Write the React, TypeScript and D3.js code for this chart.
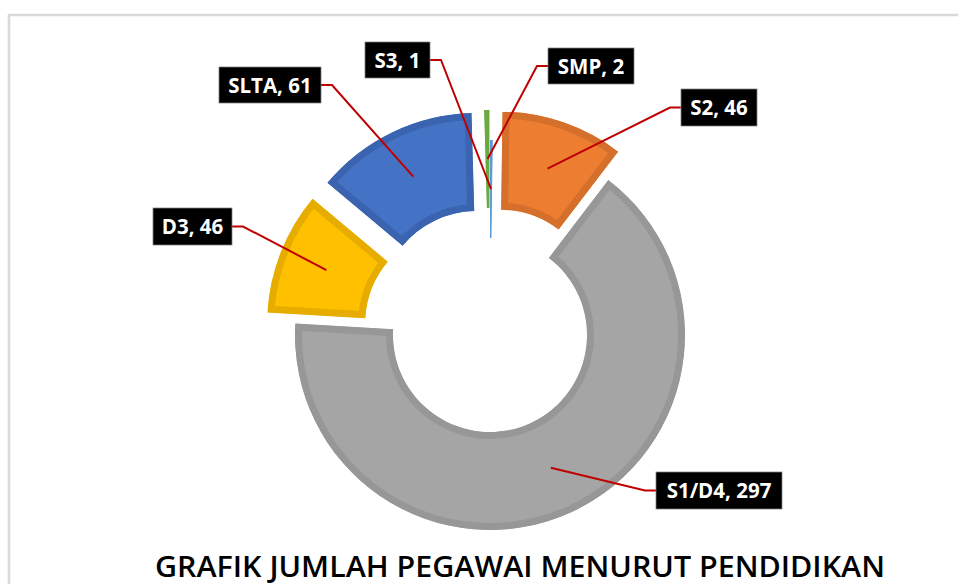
import React from 'react';
import * as d3 from 'd3';

// data, clockwise from 12 o'clock
const categories = ['S3', 'S2', 'S1/D4', 'D3', 'SLTA', 'SMP'];
const values = [1, 46, 297, 46, 61, 2];

const fills = ['#5B9BD5', '#ED7D31', '#A5A5A5', '#FFC000', '#4472C4', '#70AD47'];
const borders = ['#5B9BD5', '#D4702C', '#979797', '#E6AD00', '#3B64B0', '#6AA842'];
const exploded = ['S2', 'D3', 'SLTA', 'SMP'];

// label boxes: [x, y, w, h]
const labelBoxes: Record<string, number[]> = {
  'S3': [365, 42, 65, 36],
  'S2': [681, 89, 76, 37],
  'S1/D4': [656, 472, 126, 37],
  'D3': [153, 208, 79, 37],
  'SLTA': [219, 67, 102, 36],
  'SMP': [548, 48, 86, 36],
};

const title = 'GRAFIK JUMLAH PEGAWAI MENURUT PENDIDIKAN';

const width = 958;
const height = 584;
const cx = 490;
const cy = 335;
const outerR = 195;
const innerR = 97;
const explode = 30;

const App = () => {
  const pie = d3.pie<number>().sort(null).startAngle(0).endAngle(2 * Math.PI);
  const arcs = pie(values);
  const arc = d3.arc<d3.PieArcDatum<number>>().innerRadius(innerR).outerRadius(outerR);

  return (
    <svg width={width} height={height} style={{ position: 'absolute', left: 0, top: 0, background: '#fff' }}>
      <rect x={9} y={15} width={width + 20} height={height + 20} fill="#fff" stroke="#d9d9d9" strokeWidth={2.5} />
      <defs>
        {arcs.map((a, i) => (
          <clipPath id={`clip-${i}`} key={i}>
            <path d={arc(a) || ''} />
          </clipPath>
        ))}
      </defs>
      {arcs.map((a, i) => {
        const mid = (a.startAngle + a.endAngle) / 2;
        const off = exploded.includes(categories[i]) ? explode : 0;
        const dx = Math.sin(mid) * off;
        const dy = -Math.cos(mid) * off;
        return (
          <g key={i} transform={`translate(${cx + dx},${cy + dy})`}>
            <path d={arc(a) || ''} fill={fills[i]} stroke={borders[i]} strokeWidth={14} clipPath={`url(#clip-${i})`} />
          </g>
        );
      })}
      {arcs.map((a, i) => {
        const cat = categories[i];
        const mid = (a.startAngle + a.endAngle) / 2;
        const off = exploded.includes(cat) ? explode : 0;
        const rr = (innerR + outerR) / 2 + off;
        const px = cx + Math.sin(mid) * rr;
        const py = cy - Math.cos(mid) * rr;
        const [bx, by, bw, bh] = labelBoxes[cat];
        const ly = by + bh / 2;
        const right = px > bx + bw / 2;
        const sx = right ? bx + bw : bx;
        const kx = right ? sx + 11 : sx - 11;
        return (
          <g key={`l${i}`}>
            <polyline points={`${sx},${ly} ${kx},${ly} ${px},${py}`} fill="none" stroke="#C00000" strokeWidth={2} />
            <rect x={bx} y={by} width={bw} height={bh} fill="#000" stroke="#7f7f7f" strokeWidth={0.75} />
            <text
              x={bx + bw / 2}
              y={ly + 7.5}
              textAnchor="middle"
              fill="#fff"
              fontFamily="'Open Sans', sans-serif"
              fontWeight={700}
              fontSize={20.5}
            >
              {`${cat}, ${values[i]}`}
            </text>
          </g>
        );
      })}
      <text
        x={520}
        y={577}
        textAnchor="middle"
        fill="#000"
        fontFamily="'Open Sans', sans-serif"
        fontWeight={600}
        fontSize={28}
        textLength={730}
        lengthAdjust="spacingAndGlyphs"
      >
        {title}
      </text>
    </svg>
  );
};

export default App;
